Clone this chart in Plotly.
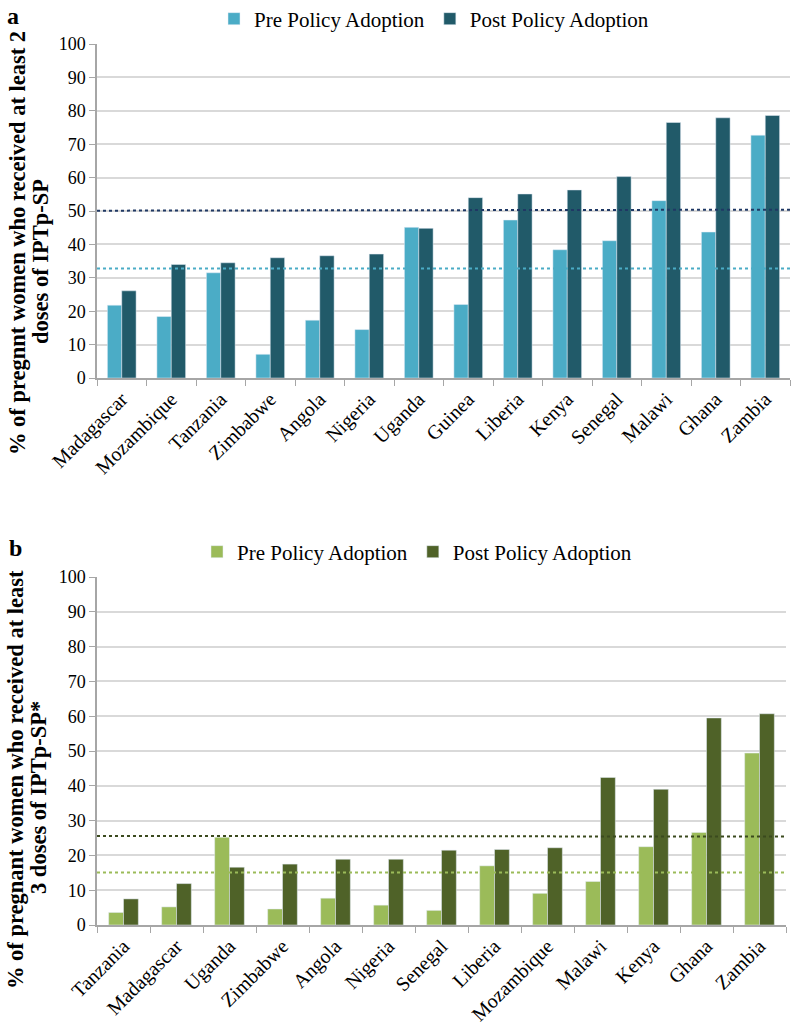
import plotly.graph_objects as go

# ---------------- data ----------------
countries_a = ["Madagascar", "Mozambique", "Tanzania", "Zimbabwe", "Angola", "Nigeria", "Uganda",
               "Guinea", "Liberia", "Kenya", "Senegal", "Malawi", "Ghana", "Zambia"]
pre_a = [21.8, 18.4, 31.5, 7.1, 17.3, 14.5, 45.1, 22.0, 47.3, 38.4, 41.1, 53.1, 43.7, 72.7]
post_a = [26.1, 34.0, 34.5, 36.0, 36.6, 37.1, 44.8, 54.0, 55.1, 56.3, 60.3, 76.5, 77.9, 78.6]
ref_a_post = [50.1, 50.4]   # dotted line (start, end)
ref_a_pre = [32.8, 32.8]

countries_b = ["Tanzania", "Madagascar", "Uganda", "Zimbabwe", "Angola", "Nigeria", "Senegal",
               "Liberia", "Mozambique", "Malawi", "Kenya", "Ghana", "Zambia"]
pre_b = [3.6, 5.2, 25.2, 4.6, 7.7, 5.7, 4.2, 17.0, 9.1, 12.5, 22.5, 26.6, 49.4]
post_b = [7.5, 11.9, 16.6, 17.5, 18.9, 18.9, 21.5, 21.7, 22.2, 42.4, 39.0, 59.5, 60.7]
ref_b_post = [25.6, 25.4]
ref_b_pre = [15.1, 15.1]

series_names = ["Pre Policy Adoption", "Post Policy Adoption"]
y_ticks = [0, 10, 20, 30, 40, 50, 60, 70, 80, 90, 100]
title_a = ["% of pregnnt women who received at least 2", "doses of IPTp-SP"]
title_b = ["% of pregnant women who received at least", "3 doses of IPTp-SP*"]

# ---------------- styling ----------------
W, H = 797, 1025
ML, MR, MT, MB = 97, 7, 2, 2
PW, PH = W - ML - MR, H - MT - MB
FONT = "Liberation Serif"
C_PRE_A, C_POST_A = "#4BACC6", "#215A69"
C_PRE_B, C_POST_B = "#9BBB59", "#4F6228"


def px2x(s):
    return (s - ML) / PW


def px2y(s):
    return (H - MB - s) / PH


fig = go.Figure()

bw_a, bw_b = 0.29, 0.28
fig.add_trace(go.Bar(x=countries_a, y=pre_a, name=series_names[0], marker_color=C_PRE_A,
                     width=bw_a, offset=-bw_a, xaxis="x", yaxis="y", legend="legend"))
fig.add_trace(go.Bar(x=countries_a, y=post_a, name=series_names[1], marker_color=C_POST_A,
                     width=bw_a, offset=0, xaxis="x", yaxis="y", legend="legend"))
fig.add_trace(go.Bar(x=countries_b, y=pre_b, name=series_names[0], marker_color=C_PRE_B,
                     width=bw_b, offset=-bw_b, xaxis="x2", yaxis="y2", legend="legend2"))
fig.add_trace(go.Bar(x=countries_b, y=post_b, name=series_names[1], marker_color=C_POST_B,
                     width=bw_b, offset=0, xaxis="x2", yaxis="y2", legend="legend2"))

dom_a = [px2y(378), px2y(44)]
dom_b = [px2y(925), px2y(577)]

xcommon = dict(type="category", showline=True, linecolor="#A6A6A6", linewidth=1.5,
               ticks="outside", tickson="boundaries", ticklen=6, tickcolor="#A6A6A6",
               tickangle=-45, tickfont=dict(family=FONT, size=20, color="black"),
               showgrid=False, automargin=False)
ycommon = dict(range=[0, 100], tickvals=y_ticks, showline=True, linecolor="#A6A6A6",
               linewidth=1.5, ticks="outside", ticklen=6, tickcolor="#A6A6A6",
               showgrid=True, gridcolor="#D9D9D9", gridwidth=1.5, automargin=False,
               tickfont=dict(family=FONT, size=18, color="black"), zeroline=False)

fig.update_layout(
    width=W, height=H,
    font=dict(family=FONT, color="black"),
    margin=dict(l=ML, r=MR, t=MT, b=MB, autoexpand=False),
    paper_bgcolor="white", plot_bgcolor="white",
    barmode="group",
    hovermode=False,
    xaxis=dict(domain=[0, 1], anchor="y", **xcommon),
    yaxis=dict(domain=dom_a, anchor="x", **ycommon),
    xaxis2=dict(domain=[0, (786 - 97) / PW], anchor="y2", **xcommon),
    yaxis2=dict(domain=dom_b, anchor="x2", **ycommon),
    legend=dict(orientation="h", x=px2x(434), y=px2y(19), xanchor="center", yanchor="middle",
                font=dict(family=FONT, size=21, color="black"), bgcolor="rgba(0,0,0,0)",
                traceorder="normal"),
    legend2=dict(orientation="h", x=px2x(417), y=px2y(552), xanchor="center", yanchor="middle",
                 font=dict(family=FONT, size=21, color="black"), bgcolor="rgba(0,0,0,0)",
                 traceorder="normal"),
    showlegend=True,
)

# dotted reference lines
shapes = []
for vals, col, xr, yr in [(ref_a_post, "#1F3864", "x domain", "y"),
                          (ref_a_pre, "#4BACC6", "x domain", "y"),
                          (ref_b_post, "#3B4A1E", "x2 domain", "y2"),
                          (ref_b_pre, "#9BBB59", "x2 domain", "y2")]:
    shapes.append(dict(type="line", xref=xr, yref=yr, x0=0, x1=1, y0=vals[0], y1=vals[1],
                       line=dict(color=col, width=2, dash="dot"), layer="above"))
fig.update_layout(shapes=shapes)

# panel labels and y titles
ann = [
    dict(text="<b>a</b>", x=px2x(13), y=px2y(16)),
    dict(text="<b>b</b>", x=px2x(15), y=px2y(548)),
]
for a in ann:
    a.update(xref="paper", yref="paper", showarrow=False, xanchor="center", yanchor="middle",
             font=dict(family=FONT, size=24, color="black"))
titles = [
    (title_a[0], 17, 243), (title_a[1], 40, 262),
    (title_b[0], 15, 780), (title_b[1], 38, 798),
]
for txt, cx, cy in titles:
    ann.append(dict(text="<b>" + txt + "</b>", x=px2x(cx), y=px2y(cy), xref="paper", yref="paper",
                    showarrow=False, textangle=-90, xanchor="center", yanchor="middle",
                    font=dict(family=FONT, size=22.5, color="black")))
fig.update_layout(annotations=ann)

fig.write_html("out.html", config={"displayModeBar": False},
               post_script="document.body.style.margin='0px';document.body.style.overflow='hidden';")
